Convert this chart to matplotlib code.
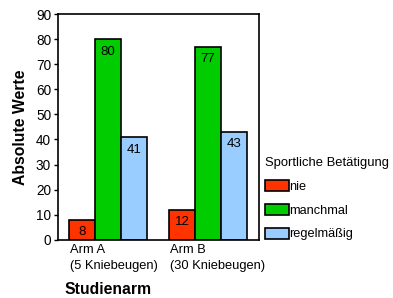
import matplotlib
matplotlib.use("Agg")
import matplotlib.pyplot as plt
import numpy as np

# Data
arms = ["Arm A\n(5 Kniebeugen)", "Arm B\n(30 Kniebeugen)"]
series = ["nie", "manchmal", "regelmäßig"]
nie = [8, 12]
manchmal = [80, 77]
regelmaessig = [41, 43]

COLORS = ["#FF3300", "#00CC00", "#99CCFF"]

plt.rcParams["font.family"] = ["Liberation Sans", "DejaVu Sans"]

fig = plt.figure(figsize=(3.93, 2.98), dpi=100)
ax = fig.add_axes([0.1476, 0.195, 0.5115, 0.758])

x = np.arange(len(arms))
w = 0.26
for i, (vals, c, lab) in enumerate(zip([nie, manchmal, regelmaessig], COLORS, series)):
    pos = x + (i - 1) * w
    ax.bar(pos, vals, w, color=c, edgecolor="black", linewidth=1.2, label=lab)
    for p, v in zip(pos, vals):
        ax.text(p, v - 2.6, str(v), ha="center", va="top", fontsize=9.5)

ax.set_xlim(-0.5, 1.51)
ax.set_ylim(0, 90)
ax.set_yticks(range(0, 91, 10))
ax.tick_params(axis="y", labelsize=9.8, length=3, width=1, pad=2)
ax.tick_params(axis="x", length=0, labelsize=9.3, pad=3)
ax.set_xticks(x - 1.5 * w + 0.005)
ax.set_xticklabels(arms, ha="left", linespacing=1.45)
for s in ax.spines.values():
    s.set_linewidth(1.2)

ax.set_ylabel("Absolute Werte", fontsize=11.3, fontweight="bold", labelpad=6)
ax.set_xlabel("Studienarm", fontsize=11.3, fontweight="bold")
ax.xaxis.set_label_coords(0.03, -0.185)
ax.xaxis.label.set_ha("left")

leg = ax.legend(title="Sportliche Betätigung", loc="upper left",
                bbox_to_anchor=(0.99, 0.4), frameon=False, fontsize=9.2,
                title_fontsize=9.4, handlelength=1.9, handleheight=0.95,
                handletextpad=0.05, labelspacing=0.85, borderaxespad=0.2)
leg._legend_box.align = "left"

fig.savefig("out.png", dpi=100)
